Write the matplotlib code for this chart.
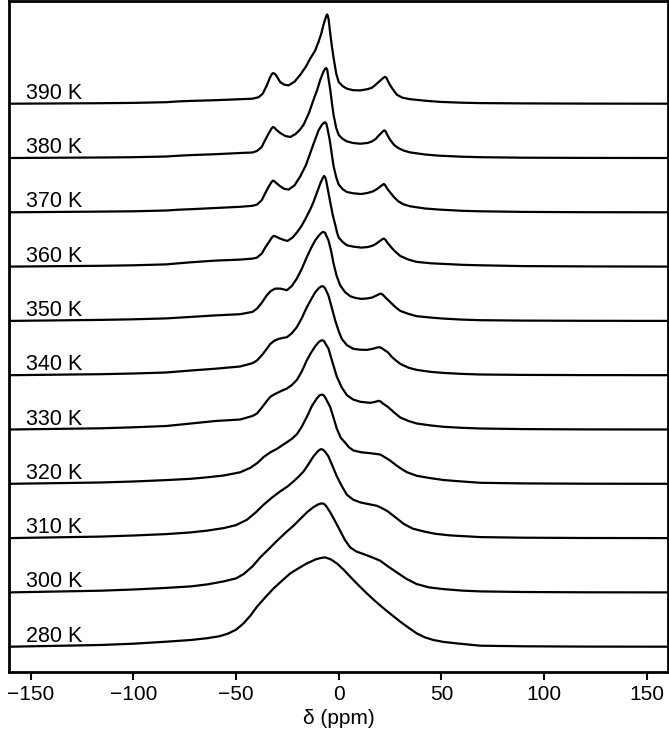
import matplotlib
matplotlib.use("Agg")
import matplotlib.pyplot as plt

plt.rcParams['font.family'] = ['Liberation Sans', 'DejaVu Sans']

# ---- data (chemical shift in ppm, intensity in arbitrary units) ----
temps = ["280 K", "300 K", "310 K", "320 K", "330 K", "340 K",
         "350 K", "360 K", "370 K", "380 K", "390 K"]
xticks = [-150, -100, -50, 0, 50, 100, 150]

ppm_390 = [-160, -116, -100, -84, -78, -72, -60, -48, -42, -39, -37, -35, -33.5, -32.6, -32, -31.2, -30.5,
           -28.5, -26.5, -24.4, -21.5, -18.7, -16, -13.9, -11.5, -9.8, -8.5, -7.4, -6.5, -6, -5.7, -5.3,
           -4.9, -4.1, -3.3, -2.5, -1.2, 0, 2, 4, 7, 10.5, 14, 16.2, 18, 19.4, 21, 22, 22.6, 23.2, 24,
           25.1, 26.5, 28.3, 31, 34.8, 42, 49.4, 60, 69, 90, 120, 160]
int_390 = [0, 0.5, 0.8, 1.5, 2.3, 2.8, 3.5, 4.5, 5, 6.5, 10, 18.3, 26, 29.5, 30.6, 30, 28.5,
           21.6, 19, 18.3, 22, 29, 37, 45, 53, 62, 70, 79, 85, 88, 89.3, 88,
           84, 70, 57, 46, 30, 21.6, 17.5, 15, 13.5, 13.3, 14.5, 16, 19, 21.6, 24.5, 26.3, 26.8, 26, 22.5,
           18.3, 14, 9, 6, 4.5, 3, 1.8, 1, 0.6, 0.3, 0.1, 0]

ppm_380 = [-160, -116, -100, -84, -78, -72, -60, -48, -42, -39.8, -37.5, -35.8, -34, -32.7, -32, -31.2, -30.5,
           -28.5, -26, -23.6, -21, -19, -17.1, -14.5, -12.3, -10.5, -9, -7.5, -6.6, -6.1, -5.6, -5, -4.1,
           -3.3, -2.5, -1.2, 0, 2, 4, 7, 10.5, 14, 16.2, 18, 19.4, 21, 21.8, 22.3, 22.9, 23.7, 25, 27, 29,
           31.5, 34.8, 42, 49, 60, 69, 90, 120, 160]
int_380 = [0, 0.5, 0.8, 1.5, 2.3, 2.9, 3.8, 5, 5.5, 7, 11, 18, 25, 29.5, 31, 30.2, 28.5,
           25, 22, 21, 24, 28, 33.3, 45, 58, 68, 78, 86, 89.2, 90, 88.5, 80, 68,
           55, 43, 30, 23, 19, 16.6, 15, 14.3, 15, 16.6, 19, 22.3, 25.5, 27.2, 27.6, 26.5, 23, 18.3, 13, 10,
           7.5, 5.6, 3.5, 2.3, 1.3, 0.8, 0.3, 0.1, 0]

ppm_370 = [-160, -116, -100, -84, -78, -72, -60, -48, -42, -39.8, -37.5, -35.8, -34, -32.7, -32, -31.2, -30.5,
           -28.5, -26.5, -24.4, -21.5, -18.7, -16, -13.9, -11.8, -9.8, -8.2, -7.2, -6.6, -6, -5.5, -4.4,
           -3.5, -2.5, -1.2, 0, 2, 4, 7, 11, 14, 16.8, 18, 19.4, 20.7, 21.5, 22, 22.7, 23.5, 25, 27, 29,
           31.5, 34.8, 42, 49, 60, 69, 90, 120, 160]
int_370 = [0, 0.7, 1, 1.8, 2.6, 3.1, 4.3, 5.5, 6.5, 7.7, 12, 19, 26, 30.3, 31.7, 30.8, 29.5,
           26, 23.5, 22.7, 27, 36, 47, 59, 71, 82, 87.5, 89.5, 90, 88.5, 84, 72.7,
           60, 46, 35, 27.7, 23, 20.3, 19, 18.3, 19.3, 21, 22.5, 24.3, 26.5, 27.7, 28.3, 27, 24, 20, 15, 11,
           8, 6, 3.8, 2.7, 1.5, 1, 0.4, 0.1, 0]

ppm_360 = [-160, -116, -100, -84, -78, -72, -60, -48, -42, -39.8, -37.5, -35.8, -33.5, -32.4, -31.7, -30.8, -30,
           -28.5, -26.5, -24.9, -22.5, -20.4, -18.3, -16.3, -13.9, -12.2, -10.6, -8.8, -7.8, -7.1, -6.5, -6,
           -5, -3.9, -2.8, -1.7, -0.8, 0, 2, 4, 7, 11, 14, 16.2, 18, 19.4, 20.7, 21.4, 22, 22.7, 23.5, 25,
           27, 30, 34, 38, 45, 51, 60, 69, 90, 120, 160]
int_360 = [0, 0.8, 1.3, 2.2, 3.3, 4.3, 6, 7, 8, 9, 13, 19, 26, 29.5, 30.7, 30.2, 29.5,
           28, 26.5, 25.7, 29, 34, 40, 47.3, 57, 65, 74, 84, 88.5, 90.6, 89, 85,
           74, 62, 50.6, 42, 34, 29, 24.5, 21.3, 20, 19, 19.5, 20.7, 22.5, 24.7, 26.5, 27.6, 28, 27, 24.5, 20.7,
           16, 10.6, 7, 4.7, 3.3, 2.7, 1.8, 1.3, 0.5, 0.2, 0]

ppm_350 = [-160, -116, -100, -84, -72, -60, -48, -42, -39.8, -37.5, -35, -33, -30.9, -28.5, -26.8, -25.2, -22.8,
           -20.4, -18, -15.5, -13.4, -11.4, -9.4, -8.2, -7.4, -6.6, -6.2, -5, -3.7, -2.5, -1, 0.7, 3, 5.6,
           8, 11, 14, 16.2, 18.5, 19.8, 20.5, 21.3, 22.5, 25, 27.5, 30, 34, 38, 45, 51, 60, 69, 90, 120, 160]
int_350 = [0, 1, 1.6, 2.5, 4, 5.5, 6.7, 9, 12.3, 18, 25.7, 30, 32.3, 32.3, 31.5, 30.7, 35,
           42.3, 52, 64, 73, 80.7, 86, 88.4, 89, 88, 86, 80.7, 70, 57.3, 45, 35.7, 29, 24.7,
           23, 22, 22.5, 23.3, 25.5, 26.8, 27.3, 26.5, 24, 19, 14, 10, 7, 4.7, 3.3, 2.3, 1.3, 0.7, 0.3, 0.1, 0]

ppm_340 = [-160, -116, -100, -84, -72, -60, -48, -42, -39.8, -37, -35, -33.3, -31.3, -29.3, -27.2, -25.2, -22.8,
           -20.4, -18, -15.5, -13.4, -11.4, -9.5, -8.5, -7.7, -7, -6.3, -5, -3.3, -1.7, 0, 1.5, 4, 7.2,
           10.5, 13.7, 16.8, 18.5, 19.9, 21, 22, 23.9, 26, 28, 30, 34, 38, 45, 51, 60, 69, 90, 120, 160]
int_340 = [0, 1, 1.7, 2.7, 4.7, 6.5, 8.7, 12, 14.7, 21, 26.5, 31.3, 34.5, 36.3, 37.3, 38, 42,
           48, 57, 68, 76, 83, 87.5, 88.7, 89, 88, 85.5, 79.7, 67, 54.7, 44, 36.3, 30, 26.3,
           25.5, 25.3, 26.5, 27.6, 28, 27, 25.5, 23, 18, 14.5, 11.3, 7.5, 5.3, 3.3, 2.3, 1.3, 0.7, 0.3, 0.1, 0]

ppm_330 = [-160, -116, -100, -84, -72, -60, -48, -42, -39.8, -37, -35, -33.3, -31.5, -29.8, -27.5, -25.2, -22.8,
           -20.4, -18, -15.5, -13.4, -11.4, -9.7, -8.8, -8, -7.2, -6.5, -5, -3, -0.9, 1.5, 4, 7, 10.5,
           15.4, 17.5, 19.4, 20.4, 21.5, 23.9, 27, 30, 34, 38, 45, 51, 60, 69, 90, 120, 160]
int_330 = [0, 1.2, 2.2, 3.5, 6, 8.5, 10, 13.5, 16, 23, 28.5, 32.7, 35, 36.7, 39, 41, 44.5,
           49.5, 58, 69.3, 77, 83.3, 87.5, 88.8, 89.3, 88.5, 86, 81, 67, 52.7, 42, 34.3, 30, 27.7,
           26.7, 27.5, 28.7, 28, 26, 22.7, 17, 12, 8.5, 6, 4, 2.7, 1.7, 1, 0.4, 0.1, 0]

ppm_320 = [-160, -116, -100, -84, -72, -64, -56, -48, -43, -39.5, -36.6, -33.3, -30, -27.5, -25.2, -22.8, -20.4,
           -18, -15.5, -13, -10.6, -9.3, -8.2, -7.2, -6.2, -4.1, -2.5, -0.9, 1, 3.2, 5, 7.2, 11, 15.4,
           20.2, 22.5, 25, 28, 30.5, 33.2, 38, 44.5, 51, 57.5, 69, 90, 120, 160]
int_320 = [0, 1.3, 2.3, 3.7, 5, 6.5, 8.3, 11.5, 16, 21, 26.7, 31.5, 35, 38.5, 41.6, 45, 49.5,
           57, 67, 78, 85.5, 88.5, 89.3, 88.3, 85, 76.6, 66, 55, 46, 41, 36.5, 33.3, 31.5, 30.6,
           29.3, 26.5, 23.3, 18.5, 15, 11.6, 8, 5.7, 3.8, 2.7, 1, 0.4, 0.1, 0]

ppm_310 = [-160, -116, -100, -84, -72, -64, -56, -50, -44.7, -40.5, -36.6, -32.5, -28.5, -25, -22, -19.5, -17.1,
           -14.7, -12.3, -10.3, -9.3, -8.5, -7.6, -6.7, -5, -3, -0.9, 1.5, 4, 7, 10.5, 14.5, 18.6, 21.5,
           23.9, 27.5, 31.6, 36, 41.3, 47, 54.3, 69, 90, 120, 160]
int_310 = [0, 1.5, 2.6, 4, 5.7, 7.5, 10, 13, 18.3, 25.5, 33.3, 40.5, 46.7, 51.5, 56.7, 61.5, 66.7,
           74, 81.7, 86.5, 88.3, 89, 88.3, 86.5, 81.7, 72, 61.7, 52, 43.3, 38.5, 35.7, 34, 32.3, 29.5,
           26.7, 21, 14.3, 9.5, 6.7, 4.3, 2.7, 1, 0.4, 0.1, 0]

ppm_300 = [-160, -116, -100, -84, -72, -64, -56, -50, -46.3, -42, -38.2, -34, -30, -26, -22, -18.7, -15.5,
           -12.5, -10, -8.8, -7.9, -7, -6, -4.1, -1.7, 0.7, 3, 5.6, 8.5, 12.1, 16, 20.2, 24, 28.3, 33, 38,
           44, 51, 60, 69, 90, 120, 160]
int_300 = [0, 1.7, 2.9, 4.5, 6, 8, 11, 14, 18.3, 26, 35, 43.5, 51.7, 59.5, 66.7, 73.5, 80,
           85, 88, 88.8, 89, 88.3, 86, 80, 71, 61.7, 52.5, 45, 41, 38.3, 35.3, 31.7, 26, 20, 13.5, 8.3,
           5, 3.3, 1.8, 1, 0.4, 0.1, 0]

ppm_280 = [-160, -116, -100, -84, -72, -64, -58, -54, -50, -46.5, -43, -39.8, -35.7, -31.7, -27.6, -23.6, -19.5,
           -15.5, -11, -8.5, -6.6, -4, -0.9, 2.4, 5.6, 9.6, 13.7, 17.8, 21.9, 26, 30, 34, 38, 42, 46.1, 51,
           57.5, 69, 90, 120, 160]
int_280 = [0, 1.7, 3, 5, 6.7, 8.5, 10.5, 13, 17, 23, 31, 40, 49.5, 58.3, 66, 73.3, 78.5,
           83.3, 87.5, 88.8, 89.3, 87.5, 83.3, 77, 70, 61.5, 53.3, 45.5, 38.3, 31.5, 25, 19, 13.3, 9.3, 6.7, 4.8,
           3.3, 1, 0.4, 0.1, 0]

spectra_ppm = [ppm_280, ppm_300, ppm_310, ppm_320, ppm_330, ppm_340,
               ppm_350, ppm_360, ppm_370, ppm_380, ppm_390]
spectra_int = [int_280, int_300, int_310, int_320, int_330, int_340,
               int_350, int_360, int_370, int_380, int_390]

# ---- layout / style ----
first_offset = 25.0
spacing = 54.3

fig = plt.figure(figsize=(6.69, 7.31), dpi=100)
ax = fig.add_axes([9.3 / 669, (731 - 671.7) / 731, (667.7 - 9.3) / 669, (671.7 - 1.3) / 731])

for i, (label, xs, ys) in enumerate(zip(temps, spectra_ppm, spectra_int)):
    off = first_offset + i * spacing
    ax.plot(xs, [v + off for v in ys], color='black', lw=1.6,
            solid_joinstyle='round', solid_capstyle='round')
    ax.text(-152.3, off + 5, label, fontsize=15.5, ha='left', va='baseline', color='black')

ax.set_xlim(-160.4, 160.2)
ax.set_ylim(0, 670.4)
ax.set_xticks(xticks)
ax.set_yticks([])
ax.tick_params(axis='x', direction='out', length=6, width=1.5, labelsize=15, pad=3.5)
for s in ax.spines.values():
    s.set_linewidth(2.0)
ax.set_xlabel("δ (ppm)", fontsize=15, labelpad=4)

fig.savefig("out.png", dpi=100)
